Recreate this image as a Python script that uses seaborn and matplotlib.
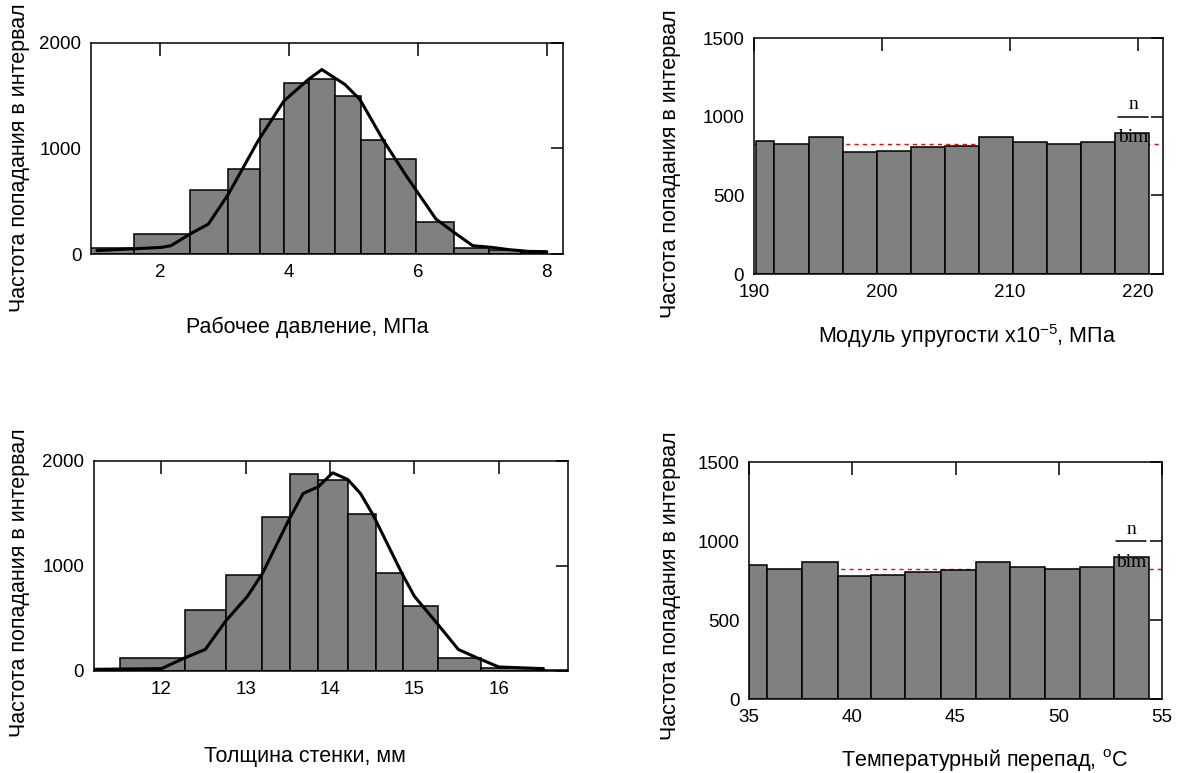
import numpy as np
import seaborn as sns
import matplotlib.pyplot as plt

# --- data ---
# top-left: working pressure, MPa
p_edges = [0.91, 1.60, 2.47, 3.06, 3.55, 3.92, 4.31, 4.72, 5.11, 5.49, 5.97, 6.56, 7.10, 7.60, 8.00]
p_counts = [60, 190, 608, 810, 1282, 1622, 1660, 1496, 1077, 904, 300, 60, 35, 20]
p_curve_x = [1.02, 2.03, 2.17, 2.49, 2.75, 3.06, 3.52, 3.92, 4.30, 4.51, 4.87, 5.10, 5.47,
             5.82, 6.28, 6.56, 6.85, 7.14, 7.42, 7.71, 8.00]
p_curve_y = [32, 63, 79, 198, 283, 567, 1071, 1449, 1654, 1748, 1606, 1465, 1071,
             740, 331, 205, 79, 63, 41, 25, 22]

# bottom-left: wall thickness, mm
t_edges = [11.21, 11.51, 12.28, 12.76, 13.19, 13.52, 13.86, 14.21, 14.54, 14.86, 15.28, 15.79, 16.53, 16.82]
t_counts = [20, 126, 585, 916, 1463, 1874, 1823, 1494, 932, 622, 126, 25, 12]
t_curve_x = [11.21, 12.00, 12.28, 12.52, 12.76, 13.02, 13.20, 13.50, 13.68, 13.86, 14.03, 14.21,
             14.36, 14.51, 14.86, 15.00, 15.28, 15.52, 15.74, 16.00, 16.53]
t_curve_y = [16, 22, 126, 205, 474, 711, 932, 1422, 1690, 1754, 1887, 1823,
             1690, 1485, 916, 711, 442, 205, 126, 38, 22]

# top-right: elastic modulus x1e-5, MPa
e_edges = [190.15, 191.55, 194.27, 196.94, 199.59, 202.26, 204.90, 207.55, 210.22, 212.87, 215.54, 218.19, 220.86]
e_counts = [848, 825, 869, 774, 783, 806, 814, 869, 837, 825, 837, 898]
e_mean = 825

# bottom-right: temperature difference, C
d_edges = [35.0, 35.89, 37.55, 39.29, 40.89, 42.55, 44.29, 45.98, 47.65, 49.33, 51.03, 52.69, 54.37]
d_counts = [847, 826, 866, 776, 786, 805, 816, 866, 837, 826, 837, 898]
d_mean = 826

ylabel = "Частота попадания в интервал"

sns.set_style("white")
plt.rcParams["font.family"] = ["Liberation Sans", "DejaVu Sans"]
plt.rcParams["mathtext.default"] = "regular"
plt.rcParams["text.color"] = "black"
plt.rcParams["axes.labelcolor"] = "black"
plt.rcParams["xtick.color"] = "black"
plt.rcParams["ytick.color"] = "black"

fig = plt.figure(figsize=(11.79, 7.73), dpi=100)
ax1 = fig.add_axes([0.0772, 0.6714, 0.4003, 0.2730])
ax2 = fig.add_axes([0.6395, 0.6455, 0.3469, 0.3053])
ax3 = fig.add_axes([0.0797, 0.1320, 0.4020, 0.2717])
ax4 = fig.add_axes([0.6353, 0.0957, 0.3503, 0.3066])

tick_font = ["Liberation Sans Narrow", "Liberation Sans", "DejaVu Sans"]
label_size = 15.5


def hist(ax, edges, counts):
    e = np.array(edges)
    centers = (e[:-1] + e[1:]) / 2
    sns.histplot(x=list(centers), weights=list(counts), bins=list(edges), color="#808080",
                 edgecolor="black", linewidth=1.1, alpha=1, ax=ax)


def style(ax, xlim, ylim, xticks, yticks, ylab_xy):
    ax.set_xlim(xlim)
    ax.set_ylim(ylim)
    ax.set_xticks(xticks)
    ax.set_yticks(yticks)
    ax.tick_params(axis="x", direction="in", length=9, width=1.1, top=True, bottom=False,
                   pad=7, labelsize=13.5, color="black", labelcolor="black")
    ax.tick_params(axis="y", direction="in", length=9, width=1.1, right=True, left=False,
                   pad=7, labelsize=13.5, color="black", labelcolor="black")
    for lab in ax.get_xticklabels() + ax.get_yticklabels():
        lab.set_family(tick_font)
    for sp in ax.spines.values():
        sp.set_visible(True)
        sp.set_color("black")
        sp.set_linewidth(1.1)
    ax.set_ylabel(ylabel, fontsize=label_size, color="black")
    ax.yaxis.set_label_coords(*ylab_xy)
    ax.set_xlabel("")


def legend_mark(ax, x0, x1, xc):
    ax.plot([x0, x1], [1000, 1000], color="black", lw=1.1)
    ax.text(xc, 1075, "n", ha="center", va="center", fontsize=14, family="Liberation Serif")
    ax.text(xc, 865, "bim", ha="center", va="center", fontsize=14, family="Liberation Serif")


# top-left
hist(ax1, p_edges, p_counts)
sns.lineplot(x=p_curve_x, y=p_curve_y, sort=False, color="black", lw=2.2, ax=ax1)
style(ax1, (0.93, 8.25), (0, 2000), [2, 4, 6, 8], [0, 1000, 2000], (-0.129, 0.455))
ax1.text(0.458, -0.374, "Рабочее давление, МПа", transform=ax1.transAxes,
         ha="center", va="baseline", fontsize=label_size)

# top-right
ax2.axhline(e_mean, color="red", ls=(0, (3, 3)), lw=1.0, zorder=0.5)
hist(ax2, e_edges, e_counts)
style(ax2, (190.15, 221.95), (0, 1500), [190, 200, 210, 220], [0, 500, 1000, 1500], (-0.178, 0.466))
legend_mark(ax2, 218.45, 220.75, 219.65)
ax2.text(0.521, -0.292, "Модуль упругости х10$^{-5}$, МПа", transform=ax2.transAxes,
         ha="center", va="baseline", fontsize=label_size)

# bottom-left
hist(ax3, t_edges, t_counts)
sns.lineplot(x=t_curve_x, y=t_curve_y, sort=False, color="black", lw=2.2, ax=ax3)
style(ax3, (11.2, 16.82), (0, 2000), [12, 13, 14, 15, 16], [0, 1000, 2000], (-0.135, 0.419))
ax3.text(0.446, -0.433, "Толщина стенки, мм", transform=ax3.transAxes,
         ha="center", va="baseline", fontsize=label_size)

# bottom-right
ax4.axhline(d_mean, color="red", ls=(0, (3, 3)), lw=1.0, zorder=0.5)
hist(ax4, d_edges, d_counts)
style(ax4, (35, 55), (0, 1500), [35, 40, 45, 50, 55], [0, 500, 1000, 1500], (-0.164, 0.477))
legend_mark(ax4, 52.75, 54.2, 53.5)
ax4.text(0.571, -0.283, "Температурный перепад, $^{o}$C", transform=ax4.transAxes,
         ha="center", va="baseline", fontsize=label_size)

fig.savefig("out.png", dpi=100)
